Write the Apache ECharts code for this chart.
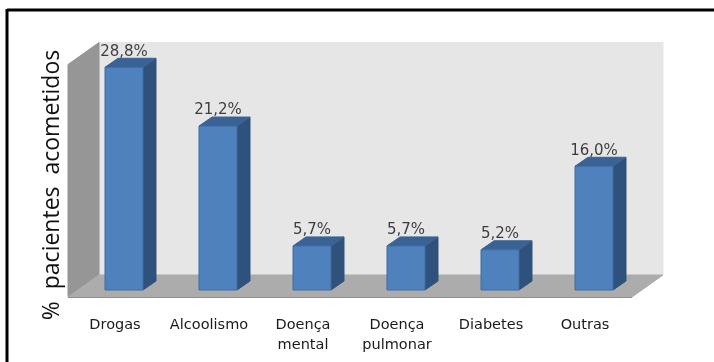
<!DOCTYPE html>
<html>
<head>
<meta charset="utf-8">
<style>html,body{margin:0;padding:0;background:#fff;overflow:hidden}#c{width:714px;height:362px}</style>
<script src="https://cdn.jsdelivr.net/npm/echarts@6/dist/echarts.min.js"></script>
</head>
<body>
<div id="c"></div>
<script>
const categories = ['Drogas', 'Alcoolismo', 'Doença\nmental', 'Doença\npulmonar', 'Diabetes', 'Outras'];
const percentages = [28.8, 21.2, 5.7, 5.7, 5.2, 16.0];
const axisMax = 30;

// Oblique projection of the 3D box
const depthX = 31, depthY = -22;
const barDepthX = 13, barDepthY = -9;
const barShift = 9, barWidth = 38;

const chart = echarts.init(document.getElementById('c'), null, { renderer: 'canvas' });

function poly(points, fill, stroke) {
  return { type: 'polygon', shape: { points }, style: { fill, stroke: stroke || fill, lineWidth: 1 } };
}

function renderWalls(params, api) {
  const cs = params.coordSys;
  const l = cs.x, r = cs.x + cs.width, y0 = api.coord([0, 0])[1], top = cs.y;
  const front = y0 + 7;          // front edge of the floor
  const backY = front + depthY;  // where floor meets back wall
  const wallTop = top + 6.5;     // top of the left wall's front edge
  return {
    type: 'group',
    children: [
      poly([[l + depthX, backY], [r + depthX, backY], [r + depthX, wallTop + depthY], [l + depthX, wallTop + depthY]], '#e6e6e6'),
      poly([[l, front], [l + depthX, backY], [l + depthX, wallTop + depthY], [l, wallTop]], '#969696'),
      poly([[l, front], [r, front], [r + depthX, backY], [l + depthX, backY]], '#acacac'),
      { type: 'line', shape: { x1: l, y1: front + 0.5, x2: r, y2: front + 0.5 }, style: { stroke: '#8e8e8e', lineWidth: 1 } }
    ]
  };
}

function renderBar(params, api) {
  const base = api.coord([api.value(0), 0]);
  const tip = api.coord([api.value(0), api.value(1)]);
  const x1 = base[0] + barShift - barWidth / 2, x2 = x1 + barWidth;
  const y0 = base[1], y1 = tip[1];
  const dx = barDepthX, dy = barDepthY;
  return {
    type: 'group',
    children: [
      poly([[x2, y0], [x2 + dx, y0 + dy], [x2 + dx, y1 + dy], [x2, y1]], '#2f527c'),
      poly([[x1, y1], [x1 + dx, y1 + dy], [x2 + dx, y1 + dy], [x2, y1]], '#3a6294'),
      { type: 'rect', shape: { x: x1, y: y1, width: barWidth, height: y0 - y1 },
        style: { fill: '#4f81bd', stroke: '#3f6da6', lineWidth: 1 } }
    ]
  };
}

chart.setOption({
  animation: false,
  backgroundColor: '#fff',
  grid: { left: 68, top: 58, width: 564, height: 232 },
  xAxis: {
    type: 'category',
    data: categories,
    axisLine: { show: false },
    axisTick: { show: false },
    axisLabel: { interval: 0, color: '#1a1a1a', fontFamily: 'DejaVu Sans', fontSize: 14.5, lineHeight: 20, margin: 25 }
  },
  yAxis: { type: 'value', min: 0, max: axisMax, show: false },
  graphic: [
    // Frame: only the top and left edges fall inside the page
    { type: 'line', shape: { x1: 7, y1: 10, x2: 714, y2: 10 }, style: { stroke: '#000', lineWidth: 3 }, silent: true, z: 20 },
    { type: 'line', shape: { x1: 7, y1: 9, x2: 7, y2: 362 }, style: { stroke: '#000', lineWidth: 3 }, silent: true, z: 20 },
    { type: 'text', x: 52, y: 185, rotation: Math.PI / 2,
      style: { text: '%  pacientes  acometidos', fontFamily: 'Open Sans', fontSize: 23, fill: '#111', align: 'center', verticalAlign: 'middle' }, z: 20 }
  ],
  series: [
    { type: 'custom', renderItem: renderWalls, data: [[0, 0]], silent: true, z: 1 },
    { type: 'custom', renderItem: renderBar, data: categories.map((c, i) => [i, percentages[i]]), silent: true, z: 2,
      encode: { x: 0, y: 1 } },
    { type: 'scatter', symbolSize: 0, z: 3, silent: true,
      data: categories.map((c, i) => [i, percentages[i]]),
      label: { show: true, position: 'top', distance: 8, offset: [barShift, 0],
        formatter: p => p.value[1].toFixed(1).replace('.', ',') + '%',
        color: '#111', fontFamily: 'DejaVu Sans', fontSize: 15 } }
  ]
});
</script>
</body>
</html>
